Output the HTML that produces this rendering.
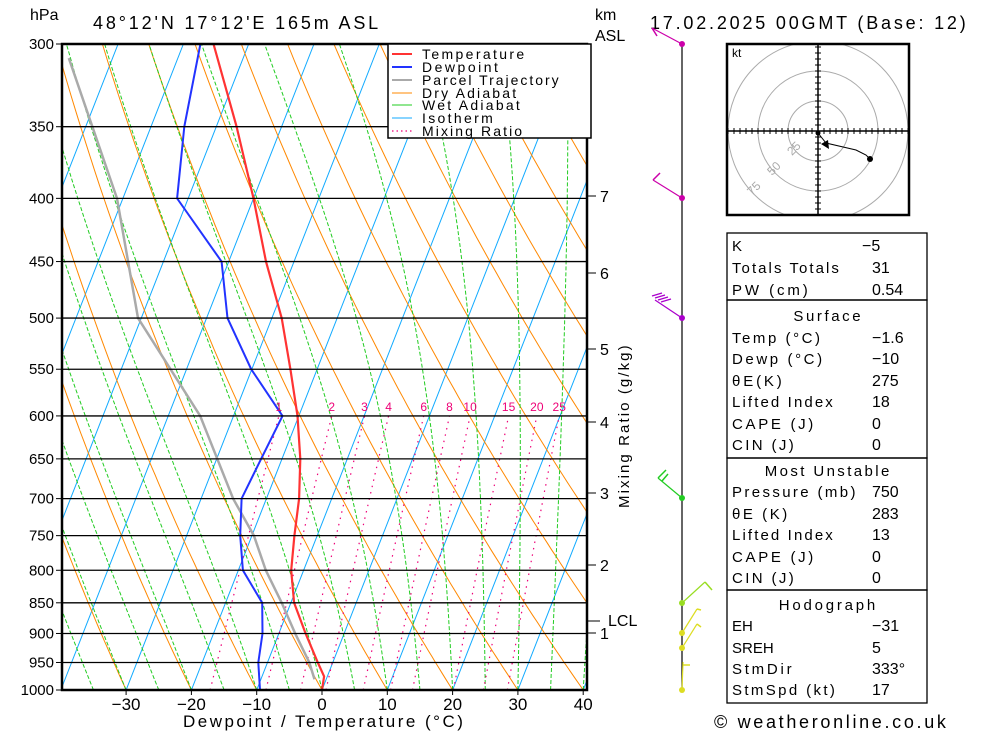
<!DOCTYPE html>
<html><head><meta charset="utf-8"><style>
body{margin:0;background:#fff;}
svg{display:block;font-family:"Liberation Sans",sans-serif;}
</style></head><body>
<svg id="c" width="1000" height="733" viewBox="0 0 1000 733" xmlns="http://www.w3.org/2000/svg">
<defs><clipPath id="pc"><rect x="62" y="44" width="525" height="646"/></clipPath>
<clipPath id="hc"><rect x="727" y="44" width="182" height="171"/></clipPath></defs>
<rect width="1000" height="733" fill="#fff"/>
<g id="grid" clip-path="url(#pc)"></g>
<g id="series" clip-path="url(#pc)"></g>
<g id="axes"></g>
<text x="30" y="20" font-size="16">hPa</text>
<text x="93" y="29" font-size="18" class="w">48°12'N  17°12'E  165m  ASL</text>
<text x="595" y="20" font-size="16">km</text>
<text x="595" y="41" font-size="16">ASL</text>
<text x="650" y="29" font-size="18" class="w">17.02.2025  00GMT  (Base: 12)</text>
<text x="183" y="727" font-size="17" class="w">Dewpoint / Temperature (°C)</text>
<text transform="translate(629,508) rotate(-90)" font-size="15" class="w">Mixing Ratio (g/kg)</text>
<text x="714" y="728" font-size="18" class="w">© weatheronline.co.uk</text>
<g>
<rect x="388" y="44" width="203" height="94" fill="#fff" stroke="#000" stroke-width="1.5"/>
<g font-size="14">
<line x1="392" y1="54" x2="412" y2="54" stroke="#f33" stroke-width="2"/><text x="422" y="59" class="w">Temperature</text>
<line x1="392" y1="67" x2="412" y2="67" stroke="#23f" stroke-width="2"/><text x="422" y="72" class="w">Dewpoint</text>
<line x1="392" y1="80" x2="412" y2="80" stroke="#aaa" stroke-width="2"/><text x="422" y="85" class="w">Parcel Trajectory</text>
<line x1="392" y1="93" x2="412" y2="93" stroke="#f80" stroke-width="1"/><text x="422" y="98" class="w">Dry Adiabat</text>
<line x1="392" y1="105" x2="412" y2="105" stroke="#2c2" stroke-width="1"/><text x="422" y="110" class="w">Wet Adiabat</text>
<line x1="392" y1="118" x2="412" y2="118" stroke="#1af" stroke-width="1"/><text x="422" y="123" class="w">Isotherm</text>
<line x1="392" y1="131" x2="412" y2="131" stroke="#e07" stroke-width="1.2" stroke-dasharray="1.5,3"/><text x="422" y="136" class="w">Mixing Ratio</text>
</g></g>
<g id="wind"></g>
<g id="hodo"></g>
<g id="table" font-size="15"></g>
</svg>
<script>
const pressures=[300,350,400,450,500,550,600,650,700,750,800,850,900,950,1000];
const xTicks=[-30,-20,-10,0,10,20,30,40];
const tempP=[300,350,400,450,500,550,600,650,700,750,800,850,900,950,975,1000];
const tempT=[-55.4,-46.9,-40.0,-34.3,-28.5,-24.1,-20.2,-17.2,-15.0,-13.5,-11.9,-9.5,-5.9,-2.3,-0.5,0.0];
const dewP=[300,350,400,450,500,550,600,650,700,750,800,850,900,950,1000];
const dewT=[-57.4,-54.9,-51.7,-41.1,-36.8,-30.1,-22.5,-23.2,-23.8,-21.8,-19.3,-14.4,-12.5,-11.4,-9.5];
const parcelP=[308,400,500,600,700,750,800,850,900,950,980];
const parcelT=[-76.7,-60.9,-50.5,-35.1,-25.1,-19.7,-15.8,-11.4,-7.5,-3.6,-1.8];
const mixRatios=[1,2,3,4,6,8,10,15,20,25];
const kmLabels=[1,2,3,4,5,6,7];
const kmY=[633,565,493,422,349,273,196];
const NS="http://www.w3.org/2000/svg";
function el(tag,attrs,parent){const e=document.createElementNS(NS,tag);for(const k in attrs)e.setAttribute(k,attrs[k]);parent.appendChild(e);return e;}
function yP(p){return 690-Math.log(1000/p)/Math.log(1000/300)*646;}
function xT(t,p){return 322+6.53*t+0.392*(690-yP(p));}
const grid=document.getElementById('grid'),series=document.getElementById('series'),axes=document.getElementById('axes');
function poly(pts,attrs,parent,name){const e=el('polyline',Object.assign({points:pts.map(q=>q[0].toFixed(1)+','+q[1].toFixed(1)).join(' '),fill:'none'},attrs),parent);return e;}
for(let t=-120;t<=40;t+=10){poly([[xT(t,1000),690],[xT(t,300),44]],{stroke:'#1af','stroke-width':1},grid,'isotherm');}
for(let th=-40;th<=200;th+=10){const pts=[];for(let p=1000;p>=300;p-=10){const T=(th+273.15)*Math.pow(p/1000,0.2857)-273.15;pts.push([xT(T,p),yP(p)]);}poly(pts,{stroke:'#f80','stroke-width':1},grid,'dry-adiabat');}
function es(T){return 6.112*Math.exp(17.67*T/(T+243.5));}
for(let t0=-40;t0<=40;t0+=5){let T=t0+273.15;const pts=[];for(let p=1000;p>=300;p-=5){pts.push([xT(T-273.15,p),yP(p)]);const e=es(T-273.15);const rs=0.622*e/(p-e);const dTdp=(287*T+2.5e6*rs)/(p*(1004+2.5e6*2.5e6*rs*0.622/(287*T*T)));T-=dTdp*5;}poly(pts,{stroke:'#2c2','stroke-width':1,'stroke-dasharray':'4,2'},grid,'wet-adiabat');}
mixRatios.forEach(w=>{const pts=[];for(let p=1000;p>=600;p-=10){const e=w*p/(622+w);const l=Math.log(e/6.112);const Td=243.5*l/(17.67-l);pts.push([xT(Td,p),yP(p)]);}poly(pts,{stroke:'#e07','stroke-width':1.2,'stroke-dasharray':'1.5,5'},grid,'mixing-ratio-line');
const e=w*600/(622+w),l=Math.log(e/6.112),Td=243.5*l/(17.67-l);const tx=el('text',{x:xT(Td,600),y:411,'font-size':12,fill:'#e07','text-anchor':'middle'},axes);tx.textContent=w;

});
pressures.forEach(p=>{const l=el('line',{x1:62,x2:587,y1:yP(p),y2:yP(p),stroke:'#000','stroke-width':1.3},axes);


el('line',{x1:56,x2:62,y1:yP(p),y2:yP(p),stroke:'#000'},axes);
const t=el('text',{x:54,y:yP(p)+5,'font-size':15,'text-anchor':'end'},axes);t.textContent=p;

});
poly(parcelP.map((p,i)=>[xT(parcelT[i],p),yP(p)]),{stroke:'#aaa','stroke-width':2.5},series,'parcel-trajectory');
poly(dewP.map((p,i)=>[xT(dewT[i],p),yP(p)]),{stroke:'#23f','stroke-width':2},series,'dewpoint-line');
poly(tempP.map((p,i)=>[xT(tempT[i],p),yP(p)]),{stroke:'#f33','stroke-width':2.2},series,'temperature-line');
el('rect',{x:62,y:44,width:525,height:646,fill:'none',stroke:'#000','stroke-width':2.5},axes);
xTicks.forEach(t=>{const x=xT(t,1000);el('line',{x1:x,x2:x,y1:690,y2:695,stroke:'#000'},axes);const tx=el('text',{x:x,y:710,'font-size':17,'text-anchor':'middle'},axes);tx.textContent=(t<0?'−':'')+Math.abs(t);

});
kmLabels.forEach((k,i)=>{el('line',{x1:587,x2:596,y1:kmY[i],y2:kmY[i],stroke:'#000'},axes);const t=el('text',{x:600,y:kmY[i]+6,'font-size':16},axes);t.textContent=k;

});
el('line',{x1:587,x2:600,y1:621,y2:621,stroke:'#000'},axes);
const lcl=el('text',{x:608,y:626,'font-size':16},axes);lcl.textContent='LCL';


const wind=document.getElementById('wind');
el('line',{x1:682,x2:682,y1:44,y2:690,stroke:'#000','stroke-width':1.2},wind);
const barbs=[[44,'#c0a',[652,28],[[652,28,657,36]]],[198,'#c0a',[653,180],[[653,180,660,173]]],[498,'#2c2',[658,478],[[658,478,666,470],[662,481,668,474]]],[603,'#9d2',[705,582],[[705,582,712,590]]],[633,'#dd2',[697,609],[[697,609,701,610]]],[648,'#dd2',[697,624],[[697,624,701,627]]],[690,'#dd2',[683,662],[[683,665,690,665]]]];
barbs.forEach(b=>{const y=b[0],c=b[1];
el('line',{x1:682,y1:y,x2:b[2][0],y2:b[2][1],stroke:c,'stroke-width':1.2},wind);b[3].forEach(s=>el('line',{x1:s[0],y1:s[1],x2:s[2],y2:s[3],stroke:c,'stroke-width':1.5},wind));
el('circle',{cx:682,cy:y,r:3,fill:c},wind);});
el('line',{x1:682,y1:318,x2:655,y2:300,stroke:'#a0c','stroke-width':1.2},wind);
for(let i=0;i<4;i++){el('line',{x1:652+i*3,y1:296+i*2,x2:662+i*3,y2:293+i*2,stroke:'#a0c','stroke-width':1.3},wind);}
el('circle',{cx:682,cy:318,r:3,fill:'#a0c'},wind);
const h=document.getElementById('hodo');
el('rect',{x:727,y:44,width:182,height:171,fill:'#fff'},h);
const cx=818,cy=131;
const hc=el('g',{'clip-path':'url(#hc)'},h);
[30,60,90].forEach(r=>el('circle',{cx:cx,cy:cy,r:r,fill:'none',stroke:'#aaa'},hc));
el('line',{x1:727,x2:909,y1:cy,y2:cy,stroke:'#000','stroke-width':1.5},hc);
el('line',{x1:cx,x2:cx,y1:44,y2:215,stroke:'#000','stroke-width':1.5},hc);
for(let d=-90;d<=90;d+=6){el('line',{x1:cx+d,x2:cx+d,y1:cy-3,y2:cy+3,stroke:'#000'},hc);el('line',{y1:cy+d,y2:cy+d,x1:cx-3,x2:cx+3,stroke:'#000'},hc);}
[['25',792,156],['50',772,176],['75',752,196]].forEach(a=>{const t=el('text',{x:a[1],y:a[2],'font-size':12,fill:'#aaa',transform:`rotate(-45 ${a[1]} ${a[2]})`},hc);t.textContent=a[0];});
el('rect',{x:727,y:44,width:182,height:171,fill:'none',stroke:'#000','stroke-width':2.5},h);
const kt=el('text',{x:732,y:57,'font-size':12},h);kt.textContent='kt';
poly([[818,133],[826,143],[856,150],[866,155],[870,159]],{stroke:'#000','stroke-width':1},h,'hodograph-trace');
el('circle',{cx:818,cy:133,r:2.5,fill:'#000'},h);el('circle',{cx:870,cy:159,r:3,fill:'#000'},h);
el('polygon',{points:'821,144 828,140 829,149',fill:'#000'},h);
const tb=document.getElementById('table');
[[233,300],[300,458],[458,590],[590,703]].forEach(b=>el('rect',{x:727,y:b[0],width:200,height:b[1]-b[0],fill:'none',stroke:'#000','stroke-width':1.3},tb));
const rows=[['K','−5',251],['Totals Totals','31',273],['PW (cm)','0.54',295],['@Surface','',321],['Temp (°C)','−1.6',343],['Dewp (°C)','−10',364],['θE(K)','275',386],['Lifted Index','18',407],['CAPE (J)','0',429],['CIN (J)','0',450],['@Most Unstable','',476],['Pressure (mb)','750',497],['θE (K)','283',519],['Lifted Index','13',540],['CAPE (J)','0',562],['CIN (J)','0',583],['@Hodograph','',610],['EH','−31',631],['SREH','5',653],['StmDir','333°',674],['StmSpd (kt)','17',695]];
rows.forEach(r=>{if(r[0][0]=='@'){const t=el('text',{x:827,y:r[2],'text-anchor':'middle',class:'w'},tb);t.textContent=r[0].slice(1);}else{const t=el('text',{x:732,y:r[2],class:r[0].length>4?'w':''},tb);t.textContent=r[0];const v=el('text',{x:r[1]=='−5'?862:872,y:r[2],'font-size':16},tb);v.textContent=r[1];}});
document.querySelectorAll('text.w').forEach(t=>{const L=t.getComputedTextLength();if(L>0)t.setAttribute('textLength',(L*1.3).toFixed(1));});
</script>
</body></html>
